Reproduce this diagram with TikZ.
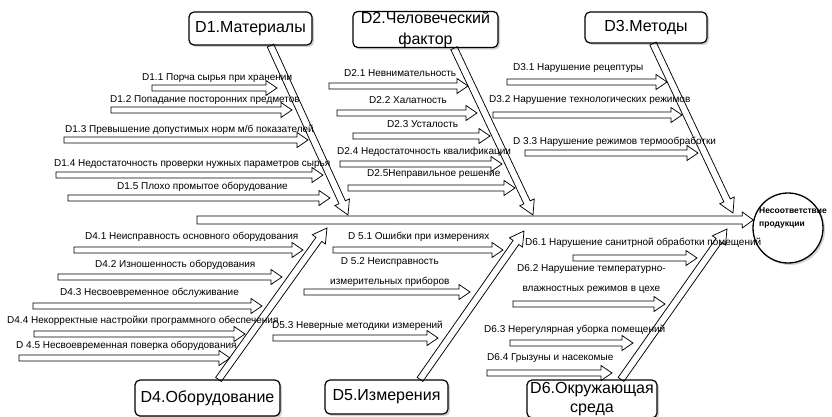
\documentclass[tikz,border=0pt]{standalone}
\usepackage{fontspec}
\setmainfont{Liberation Sans}
\usepackage{tikz}
\usetikzlibrary{calc,shadows}
\pgfkeys{tikz/mytitle/.style={draw, rounded corners=5pt, line width=1.2pt, fill=white,
                                  drop shadow={shadow xshift=2pt, shadow yshift=-2pt, fill=black!35},
                                  align=center, inner sep=0pt,
                                  font=\fontsize{16}{19}\selectfont}}
\pgfkeys{tikz/mylabel/.style={anchor=west, inner sep=0pt, font=\fontsize{10}{12}\selectfont}}
\pgfkeys{tikz/myarrow/.style={draw, line width=0.75pt, line join=miter}}
% hollow arrow: start, tip, half shaft, half head, head length
\newcommand{\hollowarrow}[5]{%
    \coordinate (ha-a) at (#1);
    \coordinate (ha-b) at (#2);
    \coordinate (ha-m) at ($(ha-b)!#5!(ha-a)$);
    \draw[myarrow] ($(ha-a)!#3!90:(ha-b)$) -- ($(ha-m)!#3!90:(ha-b)$)
        -- ($(ha-m)!#4!90:(ha-b)$) -- (ha-b) -- ($(ha-m)!#4!-90:(ha-b)$)
        -- ($(ha-m)!#3!-90:(ha-b)$) -- ($(ha-a)!#3!-90:(ha-b)$) -- cycle;}
\newcommand{\causearrow}[2]{\hollowarrow{#1}{#2}{3pt}{7.5pt}{11pt}}
\newcommand{\bonearrow}[2]{\hollowarrow{#1}{#2}{3.5pt}{8pt}{14pt}}

\begin{document}
\begin{tikzpicture}[x=1pt, y=-1pt]
                \useasboundingbox (0,0) rectangle (832,417);

                \node[mytitle, minimum width=123pt, minimum height=33pt] (materials) at (250.5, 28.5) {D1.Материалы};
                \node[mytitle, minimum width=145pt, minimum height=35pt, font=\fontsize{16}{21}\selectfont] (people) at (425.5, 29.5) {D2.Человеческий\\фактор};
                \node[mytitle, minimum width=122pt, minimum height=31pt] (methods) at (646, 27.5) {D3.Методы};
                \node[mytitle, minimum width=145pt, minimum height=36pt] (equipment) at (207.5, 398) {D4.Оборудование};
                \node[mytitle, minimum width=123pt, minimum height=34pt] (measure) at (386.5, 397) {D5.Измерения};
                \node[mytitle, minimum width=130pt, minimum height=38pt] (environment) at (592, 399) {D6.Окружающая\\среда};

                \node[circle, draw, line width=1.3pt, fill=white, minimum size=70pt, inner sep=0pt,
                      drop shadow={shadow xshift=2pt, shadow yshift=-2pt, fill=black!35}] (effect) at (788, 228) {};
                \node[anchor=west, inner sep=0pt, align=left, font=\fontsize{8.5}{13}\selectfont\bfseries] (effecttext) at (759, 218) {Несоответствие\\продукции};

                % spine and bones
                \coordinate (tail) at (197, 220);
                \hollowarrow{tail}{effect.167}{4pt}{8pt}{11pt}
                \bonearrow{$(materials.south)+(20,0)$}{348,215}
                \bonearrow{$(people.south)+(28.5,0)$}{533,215}
                \bonearrow{$(methods.south)+(7,0)$}{733,213}
                \bonearrow{$(equipment.north)+(11,0)$}{327,228}
                \bonearrow{$(measure.north)+(33.5,0)$}{524,231}
                \bonearrow{$(environment.north)+(29,0)$}{727,229}

                % D1
                \node[mylabel] (c11) at (142, 78) {D1.1 Порча сырья при хранении};
                \node[mylabel] (c12) at (110, 100) {D1.2 Попадание посторонних предметов};
                \node[mylabel] (c13) at (65, 130) {D1.3 Превышение допустимых норм м/б показателей};
                \node[mylabel] (c14) at (54, 164) {D1.4 Недостаточность проверки нужных параметров сырья};
                \node[mylabel] (c15) at (117, 187) {D1.5 Плохо промытое оборудование};
                \causearrow{152,88}{277,88}
                \causearrow{111,110}{292,110}
                \causearrow{64,140}{308,140}
                \causearrow{56,175}{323,175}
                \causearrow{68,198}{330,198}

                % D2
                \node[mylabel] (c21) at (344, 73) {D2.1 Невнимательность};
                \node[mylabel] (c22) at (369, 100) {D2.2 Халатность};
                \node[mylabel] (c23) at (387, 124) {D2.3 Усталость};
                \node[mylabel] (c24) at (337, 152) {D2.4 Недостаточность квалификации};
                \node[mylabel] (c25) at (367, 174) {D2.5Неправильное решение};
                \causearrow{329,86}{468,86}
                \causearrow{337,113}{477,113}
                \causearrow{353,136}{490,136}
                \causearrow{340,164}{502,164}
                \causearrow{348,188}{515,188}

                % D3
                \node[mylabel] (c31) at (513, 68) {D3.1 Нарушение рецептуры};
                \node[mylabel] (c32) at (489, 100) {D3.2 Нарушение технологических режимов};
                \node[mylabel] (c33) at (513, 142) {D 3.3 Нарушение режимов термообработки};
                \causearrow{507,82}{667,82}
                \causearrow{493,115}{682,115}
                \causearrow{525,153}{698,153}

                % D4
                \node[mylabel] (c41) at (85, 237) {D4.1 Неисправность основного оборудования};
                \node[mylabel] (c42) at (95, 265) {D4.2 Изношенность оборудования};
                \node[mylabel] (c43) at (60, 293) {D4.3 Несвоевременное обслуживание};
                \node[mylabel] (c44) at (7, 321) {D4.4 Некорректные настройки программного обеспечения};
                \node[mylabel] (c45) at (16, 346) {D 4.5 Несвоевременная поверка оборудования};
                \causearrow{74,250}{303,250}
                \causearrow{58,277}{282,277}
                \causearrow{33,306}{262,306}
                \causearrow{34,334}{245,334}
                \causearrow{19,358}{230,358}

                % D5
                \node[mylabel] (c51) at (348, 237) {D 5.1 Ошибки при измерениях};
                \node[mylabel, align=center, font=\fontsize{10}{20}\selectfont] (c52) at (330, 272) {D 5.2 Неисправность\\измерительных приборов};
                \node[mylabel] (c53) at (272, 326) {D5.3 Неверные методики измерений};
                \causearrow{333,250}{503,250}
                \causearrow{304,292}{470,292}
                \causearrow{273,338}{438,338}

                % D6
                \node[mylabel] (c61) at (525, 243) {D6.1 Нарушение санитрной обработки помещений};
                \node[mylabel, align=center, font=\fontsize{10}{20}\selectfont] (c62) at (517, 279) {D6.2 Нарушение температурно-\\влажностных режимов в цехе};
                \node[mylabel] (c63) at (484, 330) {D6.3 Нерегулярная уборка помещений};
                \node[mylabel] (c64) at (487, 358) {D6.4 Грызуны и насекомые};
                \causearrow{573,258}{697,258}
                \causearrow{513,304}{665,304}
                \causearrow{510,343}{633,343}
                \causearrow{487,373}{612,373}

\end{tikzpicture}
\end{document}
